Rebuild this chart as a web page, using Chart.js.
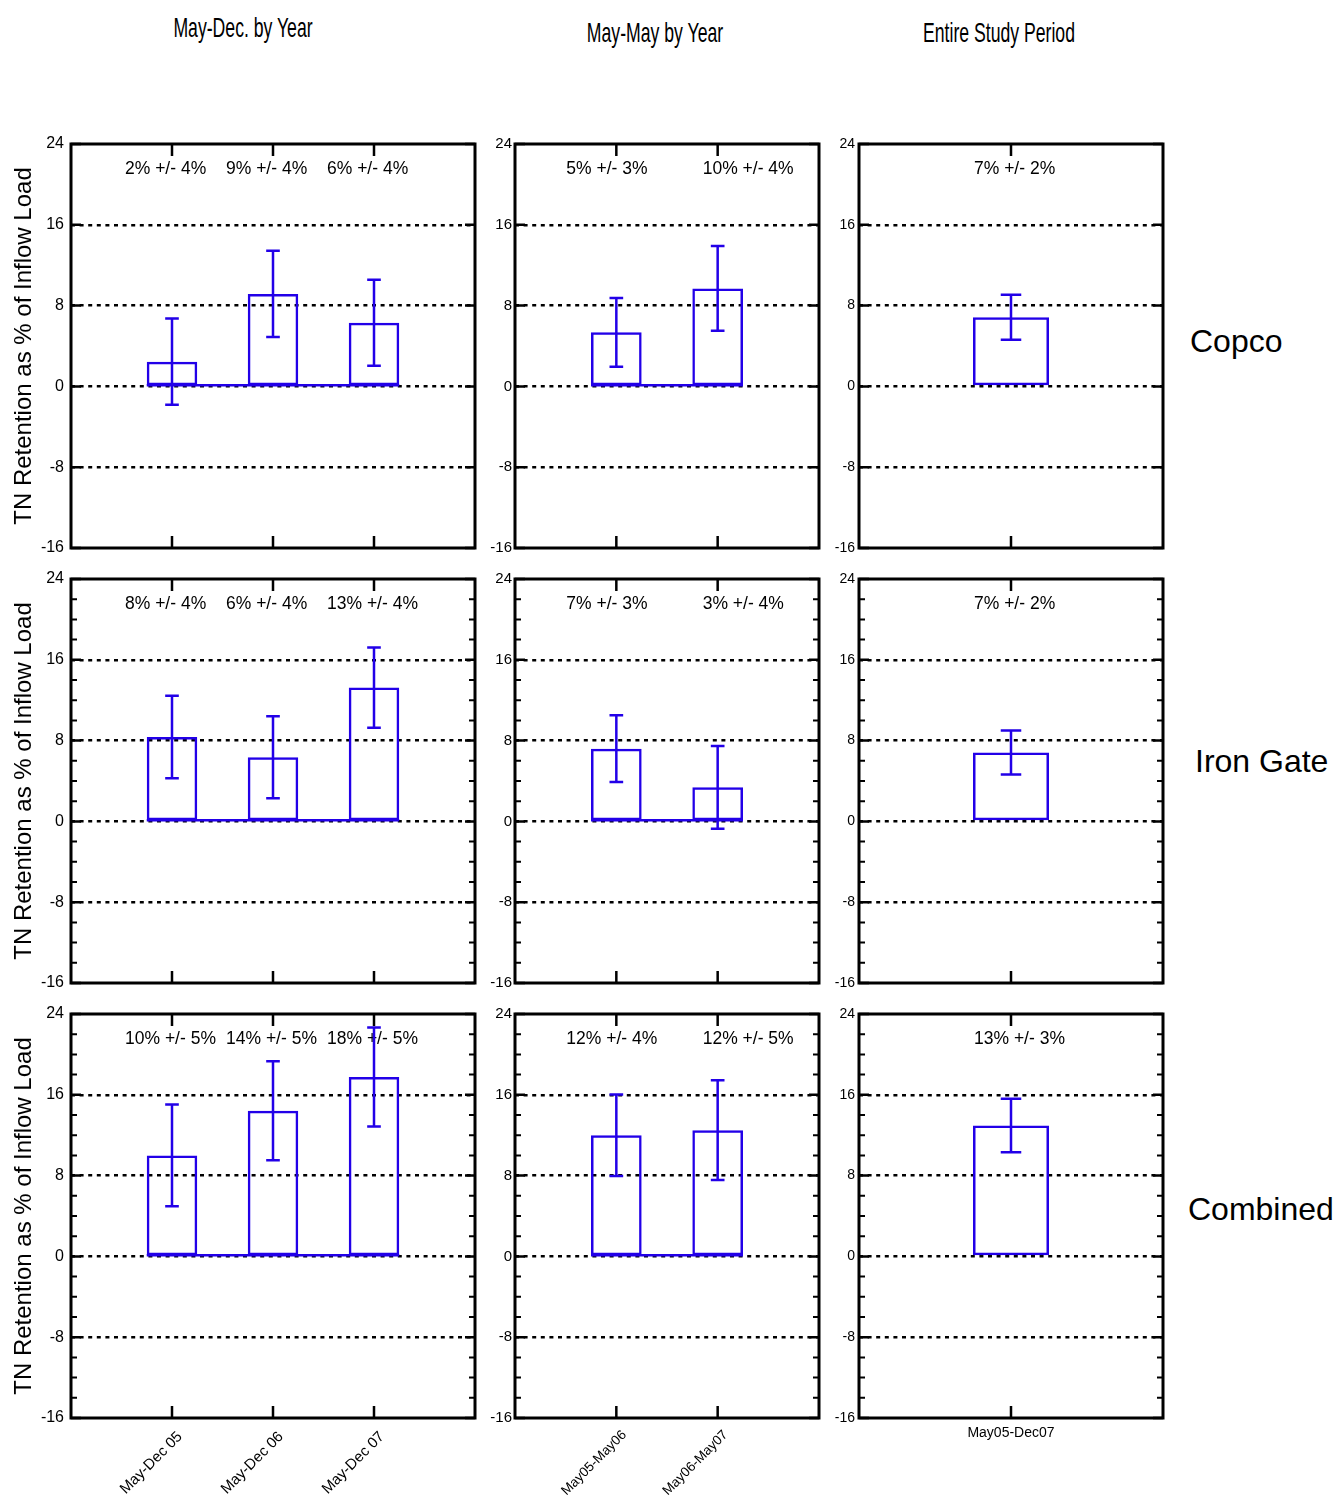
<!DOCTYPE html>
<html>
<head>
<meta charset="utf-8">
<script src="https://cdn.jsdelivr.net/npm/chart.js@4.4.1/dist/chart.umd.min.js"></script>
<style>
  html, body { margin:0; padding:0; background:#fff; }
  body { width:1337px; height:1499px; position:relative; overflow:hidden;
         font-family:'Liberation Sans', Arial, sans-serif; color:#000; }
  canvas { position:absolute; }
  .coltitle { position:absolute; font-size:28px; white-space:nowrap;
              transform:translate(-50%,-50%) scaleX(0.63); }
  .rowlabel { position:absolute; font-size:32px; white-space:nowrap;
              transform:translateY(-50%); }
</style>
</head>
<body>
<script>
// ---------------- data ----------------
const colTitles = ['May-Dec. by Year', 'May-May by Year', 'Entire Study Period'];
const rowNames  = ['Copco', 'Iron Gate', 'Combined'];
const yAxisTitle = 'TN Retention as % of Inflow Load';

const catMayDec = ['May-Dec 05', 'May-Dec 06', 'May-Dec 07'];
const catMayMay = ['May05-May06', 'May06-May07'];
const catEntire = ['May05-Dec07'];

const yMin = -16, yMax = 24, yStep = 8, yMinorStep = 2;

// Copco
const copcoMayDec    = [2.45, 9.15, 6.3];
const copcoMayDecErr = [4.27, 4.27, 4.25];
const copcoMayDecTxt = ['2% +/- 4%', '9% +/- 4%', '6% +/- 4%'];
const copcoMayMay    = [5.35, 9.7];
const copcoMayMayErr = [3.4, 4.2];
const copcoMayMayTxt = ['5% +/- 3%', '10% +/- 4%'];
const copcoEntire    = [6.85];
const copcoEntireErr = [2.22];
const copcoEntireTxt = ['7% +/- 2%'];

// Iron Gate
const ironMayDec    = [8.35, 6.35, 13.25];
const ironMayDecErr = [4.08, 4.06, 3.98];
const ironMayDecTxt = ['8% +/- 4%', '6% +/- 4%', '13% +/- 4%'];
const ironMayMay    = [7.2, 3.37];
const ironMayMayErr = [3.3, 4.1];
const ironMayMayTxt = ['7% +/- 3%', '3% +/- 4%'];
const ironEntire    = [6.82];
const ironEntireErr = [2.17];
const ironEntireTxt = ['7% +/- 2%'];

// Combined
const combMayDec    = [10.0, 14.42, 17.77];
const combMayDecErr = [5.04, 4.9, 4.9];
const combMayDecTxt = ['10% +/- 5%', '14% +/- 5%', '18% +/- 5%'];
const combMayMay    = [12.0, 12.5];
const combMayMayErr = [4.03, 4.93];
const combMayMayTxt = ['12% +/- 4%', '12% +/- 5%'];
const combEntire    = [12.96];
const combEntireErr = [2.65];
const combEntireTxt = ['13% +/- 3%'];

// tables built from the arrays above
const categories = [catMayDec, catMayMay, catEntire];
const values = [[copcoMayDec, copcoMayMay, copcoEntire],
                [ironMayDec, ironMayMay, ironEntire],
                [combMayDec, combMayMay, combEntire]];
const errors = [[copcoMayDecErr, copcoMayMayErr, copcoEntireErr],
                [ironMayDecErr, ironMayMayErr, ironEntireErr],
                [combMayDecErr, combMayMayErr, combEntireErr]];
const notes  = [[copcoMayDecTxt, copcoMayMayTxt, copcoEntireTxt],
                [ironMayDecTxt, ironMayMayTxt, ironEntireTxt],
                [combMayDecTxt, combMayMayTxt, combEntireTxt]];

// ---------------- layout / style ----------------
const BLUE = 'rgb(34,0,232)';
const FONT = "'Liberation Sans', Arial, sans-serif";
Chart.defaults.font.family = FONT;
Chart.defaults.color = '#000';

// noteShift: left edge of each annotation text relative to its category tick (px)
const colGeo = [
  {left:71,  right:475,  padL:71, tickFont:16, tickPad:7, rot:45, xFont:15, xPad:10, xOff:8, noteShift:[-47,-47,-47]},
  {left:515, right:819,  padL:40, tickFont:15, tickPad:3, rot:45, xFont:13.5, xPad:9, xOff:8, noteShift:[-50,-15]},
  {left:859, right:1163, padL:40, tickFont:14, tickPad:4, rot:0,  xFont:14, xPad:7, xOff:0, noteShift:[-37]}
];
const rowGeo = [
  {top:144,  bottom:548,  minor:false, label:{x:1190, y:341}},
  {top:579,  bottom:983,  minor:true,  label:{x:1195, y:761}},
  {top:1014, bottom:1418, minor:true,  label:{x:1188, y:1209}}
];
const titleGeo = [{x:243, y:28}, {x:655, y:33}, {x:999, y:33}];
const padT = 12, padR = 6;

// titles
colTitles.forEach((t, i) => {
  const d = document.createElement('div');
  d.className = 'coltitle';
  d.textContent = t;
  d.style.left = titleGeo[i].x + 'px';
  d.style.top = titleGeo[i].y + 'px';
  document.body.appendChild(d);
});
rowNames.forEach((t, i) => {
  const d = document.createElement('div');
  d.className = 'rowlabel';
  d.textContent = t;
  d.style.left = rowGeo[i].label.x + 'px';
  d.style.top = rowGeo[i].label.y + 'px';
  document.body.appendChild(d);
});

const panelPlugin = {
  id: 'panel',
  beforeDatasetsDraw(chart, args, o) {
    const {ctx, chartArea: a, scales: {x}} = chart;
    ctx.save();
    ctx.font = '17.5px ' + FONT;
    ctx.fillStyle = '#000';
    ctx.textAlign = 'left';
    ctx.textBaseline = 'middle';
    o.notes.forEach((t, i) => ctx.fillText(t, x.getPixelForValue(i + 1) + o.noteShift[i], a.top + 25));
    ctx.restore();
  },
  afterDatasetsDraw(chart, args, o) {
    const {ctx, scales: {y}} = chart;
    const meta = chart.getDatasetMeta(0);
    const els = o.values.map((v, i) => meta.data[i + 1]);
    const y0 = y.getPixelForValue(0);
    ctx.save();
    ctx.strokeStyle = BLUE;
    ctx.lineCap = 'butt';
    // baseline joining the bars
    if (els.length > 1) {
      const f = els[0], l = els[els.length - 1];
      ctx.lineWidth = 2.5;
      ctx.beginPath();
      ctx.moveTo(f.x - f.width / 2, y0 - 1.25);
      ctx.lineTo(l.x + l.width / 2, y0 - 1.25);
      ctx.stroke();
    }
    // error bars
    ctx.lineWidth = 2.5;
    o.values.forEach((v, i) => {
      const el = els[i];
      const e = o.errors[i];
      const yt = y.getPixelForValue(v + e);
      const yb = y.getPixelForValue(v - e);
      const cap = el.width * 0.27;
      ctx.beginPath();
      ctx.moveTo(el.x, yt); ctx.lineTo(el.x, yb);
      ctx.moveTo(el.x - cap / 2, yt); ctx.lineTo(el.x + cap / 2, yt);
      ctx.moveTo(el.x - cap / 2, yb); ctx.lineTo(el.x + cap / 2, yb);
      ctx.stroke();
    });
    ctx.restore();
  },
  afterDraw(chart, args, o) {
    const {ctx, chartArea: a, scales: {x, y}} = chart;
    ctx.save();
    ctx.strokeStyle = '#000';
    ctx.lineCap = 'butt';
    // major ticks inside on both sides
    ctx.lineWidth = 2.5;
    y.ticks.forEach(t => {
      const py = y.getPixelForValue(t.value);
      ctx.beginPath();
      ctx.moveTo(a.left, py); ctx.lineTo(a.left + 10, py);
      ctx.moveTo(a.right, py); ctx.lineTo(a.right - 10, py);
      ctx.stroke();
    });
    // minor ticks
    if (o.minor) {
      ctx.lineWidth = 2;
      for (let v = y.min; v <= y.max; v += yMinorStep) {
        if (v % yStep === 0) continue;
        const py = y.getPixelForValue(v);
        ctx.beginPath();
        ctx.moveTo(a.left, py); ctx.lineTo(a.left + 6, py);
        ctx.moveTo(a.right, py); ctx.lineTo(a.right - 6, py);
        ctx.stroke();
      }
    }
    // category ticks top and bottom, inside
    ctx.lineWidth = 2.5;
    o.values.forEach((v, i) => {
      const px = x.getPixelForValue(i + 1);
      ctx.beginPath();
      ctx.moveTo(px, a.top); ctx.lineTo(px, a.top + 12);
      ctx.moveTo(px, a.bottom); ctx.lineTo(px, a.bottom - 12);
      ctx.stroke();
    });
    // frame
    ctx.lineWidth = 3;
    ctx.strokeRect(a.left, a.top, a.right - a.left, a.bottom - a.top);
    ctx.restore();
  }
};

rowGeo.forEach((rg, r) => {
  colGeo.forEach((cg, c) => {
    const isBottom = r === rowGeo.length - 1;
    const padB = isBottom ? 85 : 20;
    const W = cg.padL + (cg.right - cg.left) + padR;
    const H = padT + (rg.bottom - rg.top) + padB;
    const cv = document.createElement('canvas');
    cv.width = W; cv.height = H;
    cv.style.left = (cg.left - cg.padL) + 'px';
    cv.style.top = (rg.top - padT) + 'px';
    cv.style.width = W + 'px'; cv.style.height = H + 'px';
    document.body.appendChild(cv);

    const cats = categories[c];
    const labels = [''].concat(cats, ['']);
    const vals = values[r][c];
    const data = [null].concat(vals, [null]);

    new Chart(cv, {
      type: 'bar',
      data: {
        labels: labels,
        datasets: [{
          data: data,
          backgroundColor: 'rgba(0,0,0,0)',
          borderColor: BLUE,
          borderWidth: 2.5,
          borderSkipped: false,
          categoryPercentage: 1,
          barPercentage: 0.5
        }]
      },
      options: {
        responsive: false,
        animation: false,
        devicePixelRatio: 1,
        events: [],
        layout: {padding: {left: 0, top: padT, right: padR, bottom: 0}},
        plugins: {
          legend: {display: false},
          tooltip: {enabled: false},
          panel: {values: vals, errors: errors[r][c], notes: notes[r][c], minor: rg.minor, noteShift: cg.noteShift}
        },
        scales: {
          x: {
            type: 'category',
            offset: false,
            grid: {display: false, drawTicks: false},
            border: {display: false},
            ticks: {
              display: isBottom,
              autoSkip: false,
              maxRotation: cg.rot,
              minRotation: cg.rot,
              padding: cg.xPad,
              labelOffset: cg.xOff,
              font: {size: cg.xFont},
              color: '#000'
            },
            afterFit(s) { s.height = padB; s.paddingLeft = 0; s.paddingRight = 0; }
          },
          y: {
            min: yMin, max: yMax,
            ticks: {stepSize: yStep, font: {size: cg.tickFont}, color: '#000', padding: cg.tickPad},
            grid: {
              drawTicks: false,
              lineWidth: 2.5,
              color: (ctx) => (ctx.tick && (ctx.tick.value === yMin || ctx.tick.value === yMax)) ? 'rgba(0,0,0,0)' : '#000'
            },
            border: {display: false, dash: [4, 4.6]},
            title: {
              display: c === 0,
              text: yAxisTitle,
              font: {size: 24},
              color: '#000',
              padding: {top: 10, bottom: 0}
            },
            afterFit(s) { s.width = cg.padL; s.paddingTop = 0; s.paddingBottom = 0; }
          }
        }
      },
      plugins: [panelPlugin]
    });
  });
});
</script>
</body>
</html>
